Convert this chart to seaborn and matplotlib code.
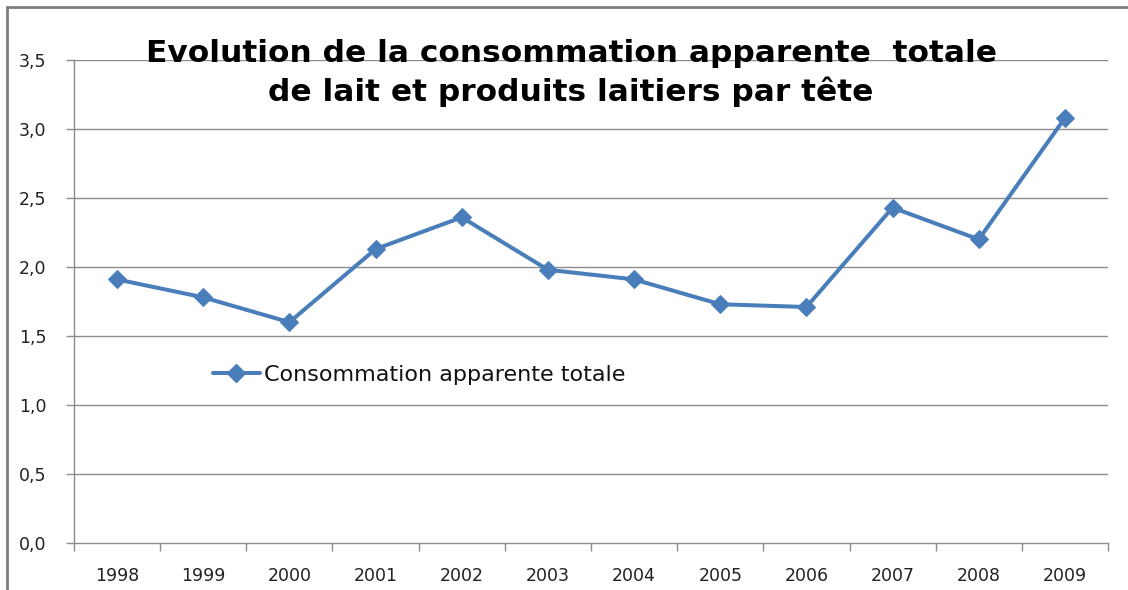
import matplotlib
matplotlib.use("Agg")
import matplotlib.pyplot as plt
import seaborn as sns
import pandas as pd
from matplotlib.lines import Line2D
from matplotlib.ticker import FixedLocator, FuncFormatter

years = ["1998", "1999", "2000", "2001", "2002", "2003", "2004", "2005", "2006", "2007", "2008", "2009"]
values = [1.91, 1.78, 1.60, 2.13, 2.36, 1.98, 1.91, 1.73, 1.71, 2.43, 2.20, 3.08]
series_name = "Consommation apparente totale"
title = "Evolution de la consommation apparente  totale\nde lait et produits laitiers par tête"
y_ticks = [0.0, 0.5, 1.0, 1.5, 2.0, 2.5, 3.0, 3.5]

sns.set_theme(style="white")
plt.rcParams["font.family"] = ["DejaVu Sans"]

df = pd.DataFrame({"pos": range(len(years)), "value": values, "serie": series_name})

fig = plt.figure(figsize=(11.28, 5.90), dpi=100)
ax = fig.add_axes([74 / 1128, 47 / 590, (1108 - 74) / 1128, (543 - 60) / 590])

color = "#4A7EBB"
for yv in y_ticks[1:]:
    ax.axhline(yv, color="#8C8C8C", lw=1.0, zorder=1)

sns.lineplot(data=df, x="pos", y="value", ax=ax, color=color, lw=2.9,
             marker="D", markersize=9, markeredgecolor=color, zorder=3, legend=False)

ax.set_xlim(-0.5, len(years) - 0.5)
ax.set_ylim(0, 3.5)
ax.set_xticks(range(len(years)))
ax.set_xticklabels(years)
ax.xaxis.set_minor_locator(FixedLocator([i - 0.5 for i in range(len(years) + 1)]))
ax.tick_params(axis="x", which="major", length=0, pad=17, labelsize=12.5, labelcolor="#222222")
ax.tick_params(axis="x", which="minor", length=6, width=1, color="#8C8C8C", direction="out", bottom=True)
ax.set_yticks(y_ticks)
ax.yaxis.set_major_formatter(FuncFormatter(lambda v, p: f"{v:.1f}".replace(".", ",")))
ax.tick_params(axis="y", which="major", length=6, width=1, color="#8C8C8C", direction="out",
               left=True, labelsize=12.5, labelcolor="#222222", pad=14)
ax.set_xlabel("")
ax.set_ylabel("")
for s in ["top", "right"]:
    ax.spines[s].set_visible(False)
for s in ["left", "bottom"]:
    ax.spines[s].set_color("#8C8C8C")
    ax.spines[s].set_linewidth(1.0)

handle = Line2D([], [], color=color, lw=2.9, marker="D", markersize=9, markeredgecolor=color)
leg = ax.legend([handle], [series_name], loc="center left", bbox_to_anchor=(130 / 1034, (543 - 375) / 483),
                frameon=False, fontsize=16, handlelength=2.1, handletextpad=0.2, borderaxespad=0)
for t in leg.get_texts():
    t.set_color("#111111")

fig.text(571 / 1128, 1 - 73 / 590, title, ha="center", va="center", fontsize=22.5,
         fontweight="bold", color="black", linespacing=1.38)

fig.add_artist(Line2D([7 / 1128, 7 / 1128], [0, 1 - 7 / 590], transform=fig.transFigure, color="#7F7F7F", lw=2))
fig.add_artist(Line2D([7 / 1128, 1], [1 - 7 / 590, 1 - 7 / 590], transform=fig.transFigure, color="#7F7F7F", lw=2))

fig.savefig("out.png", dpi=100, facecolor="white")
